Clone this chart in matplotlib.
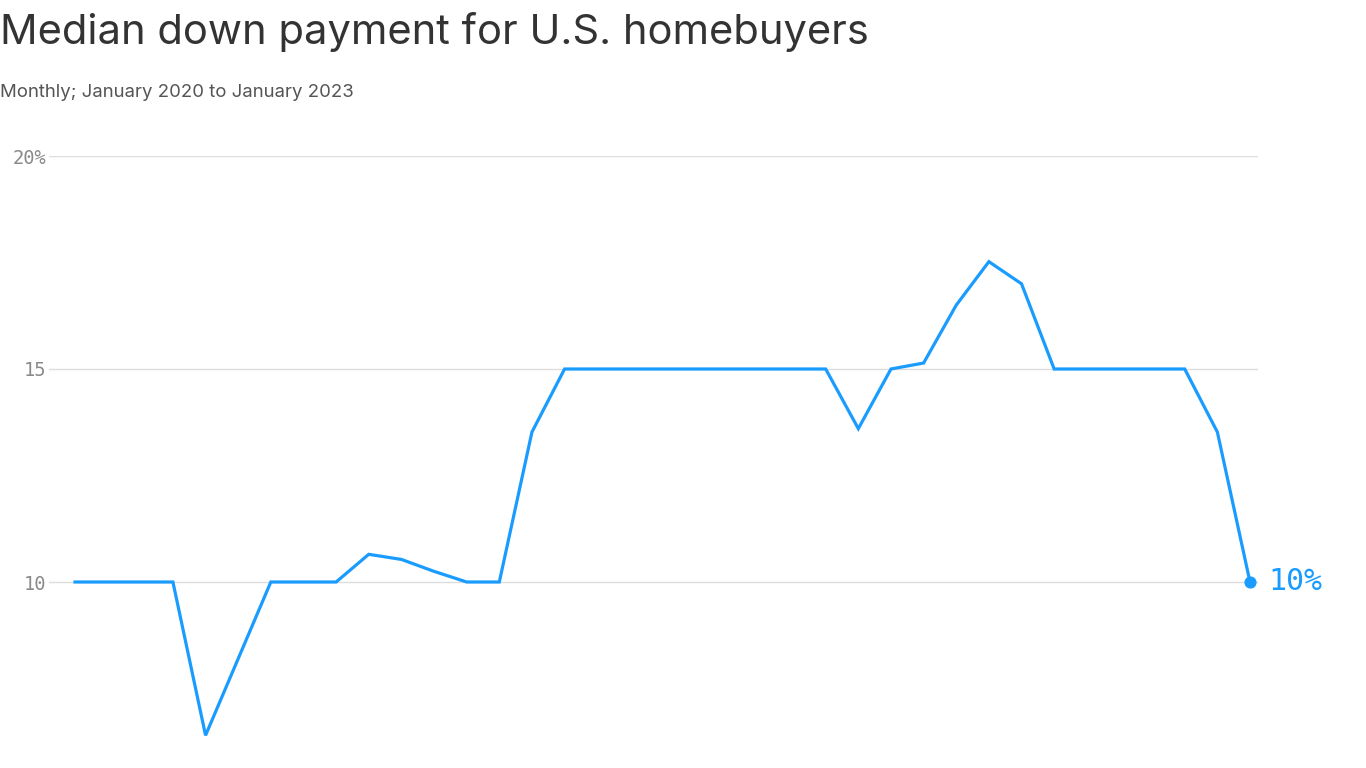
import matplotlib
matplotlib.use("Agg")
import matplotlib.pyplot as plt

months = list(range(37))  # Jan 2020 .. Jan 2023
down_payment = [10, 10, 10, 10, 6.4, 8.2, 10, 10, 10, 10.65, 10.53, 10.25, 10.0, 10.0,
                13.52, 15, 15, 15, 15, 15, 15, 15, 15, 15, 13.6, 15, 15.14, 16.5, 17.52,
                17.0, 15, 15, 15, 15, 15, 13.52, 10]
ytick_vals = [10, 15, 20]
ytick_labels = ["10", "15", "20%"]
end_label = "10%"

W, H = 1366, 768
fig = plt.figure(figsize=(W / 100, H / 100), dpi=100)

LINE = "#1A9CFF"
ax_left, ax_right = 49, 1258
ax_top, ax_bottom = 156, 752
ax = fig.add_axes([ax_left / W, (H - ax_bottom) / H, (ax_right - ax_left) / W, (ax_bottom - ax_top) / H])

px_per_x = (1250 - 75) / 36
ax.set_xlim(0 - (75 - ax_left) / px_per_x, 36 + (ax_right - 1250) / px_per_x)
px_per_y = (582 - 156) / 10
ax.set_ylim(10 - (ax_bottom - 582) / px_per_y, 20)

ax.plot(months, down_payment, color=LINE, lw=2.3, solid_joinstyle="miter", clip_on=False, zorder=3)
ax.scatter([months[-1]], [down_payment[-1]], s=60, color=LINE, zorder=4, clip_on=False)
ax.annotate(end_label, (months[-1], down_payment[-1]), xytext=(13, 0), textcoords="offset points",
            va="center", ha="left", color=LINE, fontsize=21.5, family="DejaVu Sans Mono",
            annotation_clip=False)

ax.set_yticks(ytick_vals)
ax.set_yticklabels(ytick_labels, family="DejaVu Sans Mono", fontsize=13.5, color="#8a8a8a")
ax.tick_params(axis="y", length=0, pad=2)
ax.set_xticks([])
ax.grid(axis="y", color="#dddddd", lw=1)
ax.set_axisbelow(True)
for s in ax.spines.values():
    s.set_visible(False)

fig.text(0, 1 - 44 / H, "Median down payment for U.S. homebuyers", fontsize=30, color="#333333",
         family="Inter", va="baseline", ha="left")
fig.text(0, 1 - 97 / H, "Monthly; January 2020 to January 2023", fontsize=13.4, color="#555555",
         family="Inter", va="baseline", ha="left")

fig.savefig("out.png", dpi=100)
